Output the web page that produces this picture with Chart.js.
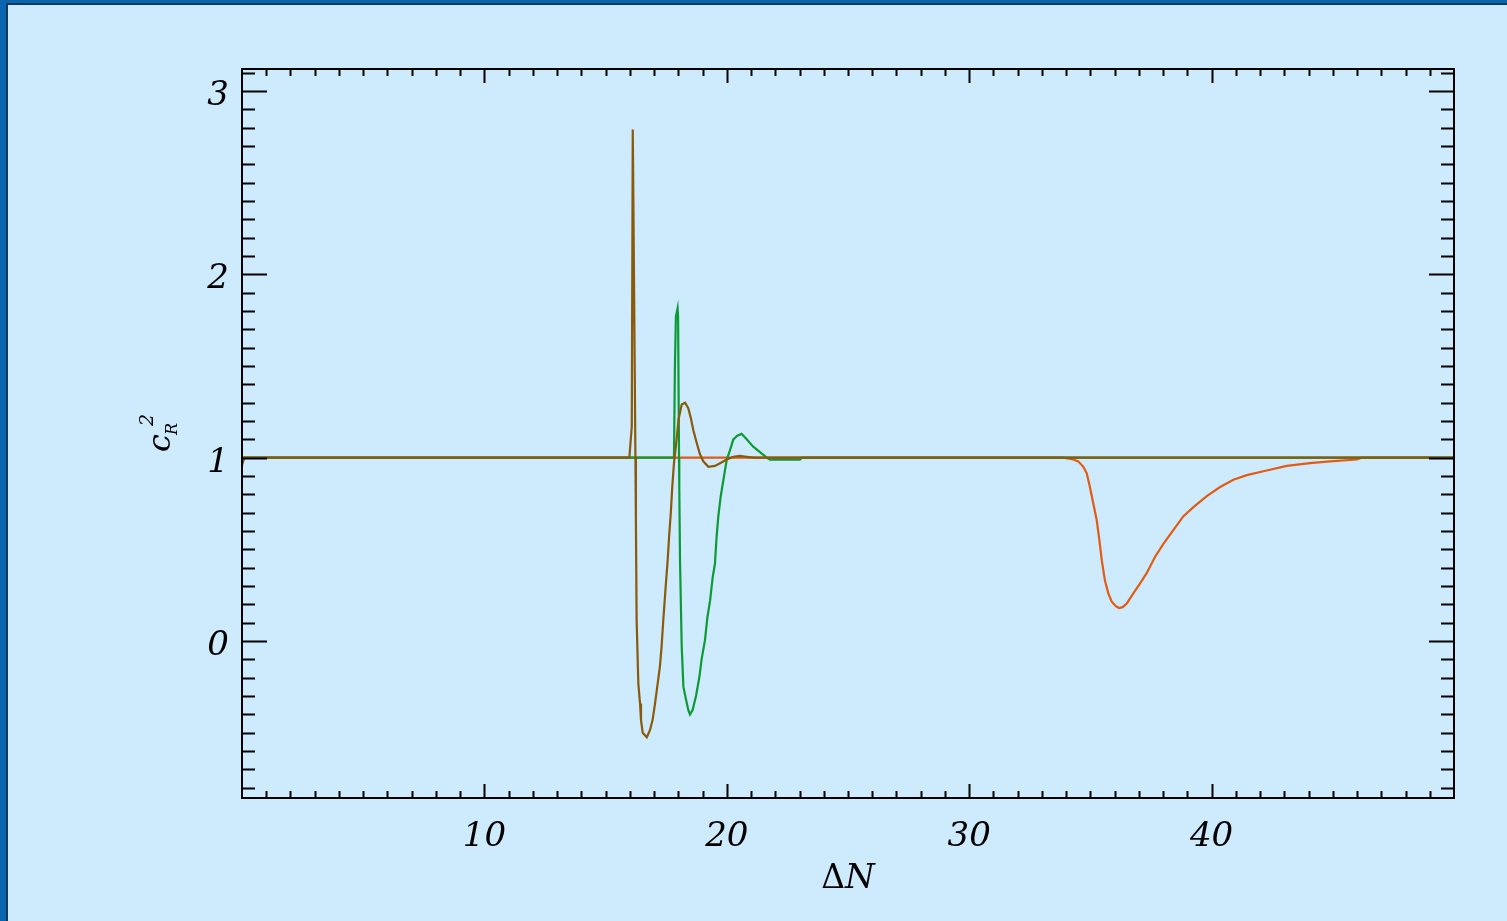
<!DOCTYPE html>
<html>
<head>
<meta charset="utf-8">
<script src="https://cdn.jsdelivr.net/npm/chart.js@4.4.1/dist/chart.umd.min.js"></script>
<style>
  html, body { margin: 0; padding: 0; }
  body { width: 1507px; height: 921px; background: #0a65ae; position: relative; overflow: hidden; }
  #panel { position: absolute; left: 6px; top: 3px; right: 0; bottom: 0; background: #cdebfd; border-left: 2px solid #123a5c; border-top: 2px solid #123a5c; }
  #wrap { position: absolute; left: 0; top: 0; width: 1507px; height: 921px; }
</style>
</head>
<body>
<div id="panel"></div>
<div id="wrap"><canvas id="chart" width="1507" height="921"></canvas></div>
<script>
// ===== c_R^2 vs ΔN =====

// brown curve
const brownX = [0, 0.1, 15.98, 16.08, 16.12, 16.14, 16.19, 16.23, 16.25, 16.28, 16.35, 16.42, 16.46, 16.53, 16.70,
    16.83, 16.94, 17.04, 17.13, 17.24, 17.31, 17.38, 17.48, 17.56, 17.62, 17.69, 17.75, 17.82, 17.90, 18.01,
    18.14, 18.28, 18.41, 18.51, 18.62, 18.76, 18.89, 19.03, 19.24, 19.51, 19.72, 20.0, 20.27, 20.54, 20.82, 21.1, 50];
const brownY = [0.96, 1.0, 1.0, 1.17, 2.79, 2.50, 1.68, 1.0, 0.66, 0.115, -0.23, -0.34, -0.43, -0.50, -0.525,
    -0.486, -0.43, -0.34, -0.25, -0.14, -0.03, 0.115, 0.30, 0.44, 0.57, 0.70, 0.84, 0.97, 1.06, 1.21,
    1.29, 1.30, 1.27, 1.22, 1.15, 1.08, 1.02, 0.98, 0.95, 0.955, 0.97, 0.99, 1.005, 1.01, 1.005, 1.0, 1.0];

// green curve
const greenX = [0, 17.80, 17.82, 17.86, 17.90, 17.97, 17.99, 18.03, 18.04, 18.07, 18.14, 18.21, 18.32, 18.41, 18.48,
    18.59, 18.73, 18.87, 18.96, 19.10, 19.20, 19.31, 19.42, 19.51, 19.58, 19.65, 19.75, 19.86, 20.0, 20.13,
    20.27, 20.43, 20.61, 20.82, 21.09, 21.37, 21.65, 21.78, 23.02, 23.1, 50];
const greenY = [1.0, 1.0, 1.005, 1.50, 1.77, 1.815, 1.77, 1.0, 0.84, 0.44, -0.03, -0.25, -0.32, -0.376, -0.40,
    -0.376, -0.30, -0.195, -0.10, 0.005, 0.13, 0.22, 0.35, 0.42, 0.57, 0.68, 0.79, 0.88, 0.99, 1.04,
    1.10, 1.12, 1.13, 1.10, 1.06, 1.03, 1.0, 0.99, 0.99, 1.0, 1.0];

// orange curve
const orangeX = [0, 33.88, 34.30, 34.50, 34.71, 34.85, 34.98, 35.12, 35.26, 35.37, 35.47, 35.60, 35.74, 35.88, 36.05, 36.18,
    36.33, 36.50, 36.77, 37.05, 37.32, 37.67, 38.01, 38.42, 38.83, 39.25, 39.80, 40.35, 40.90, 41.45, 42.27, 43.10,
    44.06, 44.88, 45.99, 46.2, 50];
const orangeY = [1.0, 1.0, 0.99, 0.98, 0.95, 0.915, 0.84, 0.75, 0.66, 0.55, 0.44, 0.33, 0.26, 0.215, 0.19, 0.18,
    0.185, 0.205, 0.26, 0.315, 0.37, 0.46, 0.53, 0.605, 0.68, 0.73, 0.79, 0.84, 0.88, 0.905, 0.93, 0.955,
    0.97, 0.98, 0.99, 1.0, 1.0];

const xTickValues = [10, 20, 30, 40];
const yTickValues = [0, 1, 2, 3];

function toPoints(xs, ys) {
    return xs.map((x, i) => ({ x: x, y: ys[i] }));
}

const tickFont = { family: "'DejaVu Serif', serif", size: 34, style: 'italic' };

// frame + inward tick marks on all four sides, plus axis titles
const framePlugin = {
    id: 'frame',
    afterDatasetsDraw(chart) {
        const { ctx, chartArea: a, scales } = chart;
        const xs = scales.x, ys = scales.y;
        ctx.save();
        ctx.strokeStyle = '#000';
        ctx.lineWidth = 2;
        ctx.strokeRect(a.left, a.top, a.right - a.left, a.bottom - a.top);
        ctx.beginPath();
        for (let i = 1; i < 50; i++) {
            const px = Math.round(xs.getPixelForValue(i)) + 0.5;
            const len = i % 10 === 0 ? 14 : 7;
            ctx.moveTo(px, a.bottom); ctx.lineTo(px, a.bottom - len);
            ctx.moveTo(px, a.top); ctx.lineTo(px, a.top + len);
        }
        for (let j = -8; j <= 31; j++) {
            const py = Math.round(ys.getPixelForValue(j / 10)) + 0.5;
            const len = j % 10 === 0 ? 25 : 13;
            ctx.moveTo(a.left, py); ctx.lineTo(a.left + len, py);
            ctx.moveTo(a.right, py); ctx.lineTo(a.right - len, py);
        }
        ctx.stroke();

        ctx.fillStyle = '#000';
        ctx.textBaseline = 'alphabetic';

        // x axis title: upright Δ, italic N
        const cx = (a.left + a.right) / 2;
        ctx.font = "33px 'DejaVu Serif'";
        const wD = ctx.measureText('Δ').width;
        ctx.font = "italic 34px 'DejaVu Serif'";
        const wN = ctx.measureText('N').width;
        const x0 = cx - (wD + wN) / 2;
        ctx.font = "33px 'DejaVu Serif'";
        ctx.fillText('Δ', x0, 888);
        ctx.font = "italic 34px 'DejaVu Serif'";
        ctx.fillText('N', x0 + wD, 888);

        // y axis title: c_R^2 rotated
        ctx.translate(170, 452);
        ctx.rotate(-Math.PI / 2);
        ctx.font = "italic 32px 'DejaVu Serif'";
        ctx.fillText('c', 0, 0);
        ctx.font = "italic 16px 'DejaVu Serif'";
        ctx.fillText('R', 17, 7);
        ctx.font = "italic 19px 'DejaVu Serif'";
        ctx.fillText('2', 26, -17);
        ctx.restore();
    }
};

const ctx = document.getElementById('chart').getContext('2d');
const chart = new Chart(ctx, {
    type: 'line',
    data: {
        datasets: [
            { label: 'brown', data: toPoints(brownX, brownY), borderColor: '#8a5a0a', borderWidth: 2.2 },
            { label: 'green', data: toPoints(greenX, greenY), borderColor: '#0c9a35', borderWidth: 2.2 },
            { label: 'orange', data: toPoints(orangeX, orangeY), borderColor: '#e35a12', borderWidth: 2.2 }
        ]
    },
    options: {
        responsive: false,
        animation: false,
        elements: { point: { radius: 0 }, line: { tension: 0 } },
        layout: { padding: { left: 0, top: 69, right: 53, bottom: 0 } },
        plugins: { legend: { display: false }, tooltip: { enabled: false } },
        scales: {
            x: {
                type: 'linear',
                min: 0,
                max: 50,
                grid: { display: false, drawTicks: false },
                border: { display: false },
                afterBuildTicks: s => { s.ticks = xTickValues.map(v => ({ value: v })); },
                afterFit: s => { s.height = 123; },
                ticks: { color: '#000', font: tickFont, padding: 19, maxRotation: 0 }
            },
            y: {
                type: 'linear',
                min: -0.856,
                max: 3.12,
                grid: { display: false, drawTicks: false },
                border: { display: false },
                afterBuildTicks: s => { s.ticks = yTickValues.map(v => ({ value: v })); },
                afterFit: s => { s.width = 242; },
                ticks: { color: '#000', font: tickFont, padding: 13, labelOffset: 5 }
            }
        }
    },
    plugins: [framePlugin]
});
</script>
</body>
</html>
